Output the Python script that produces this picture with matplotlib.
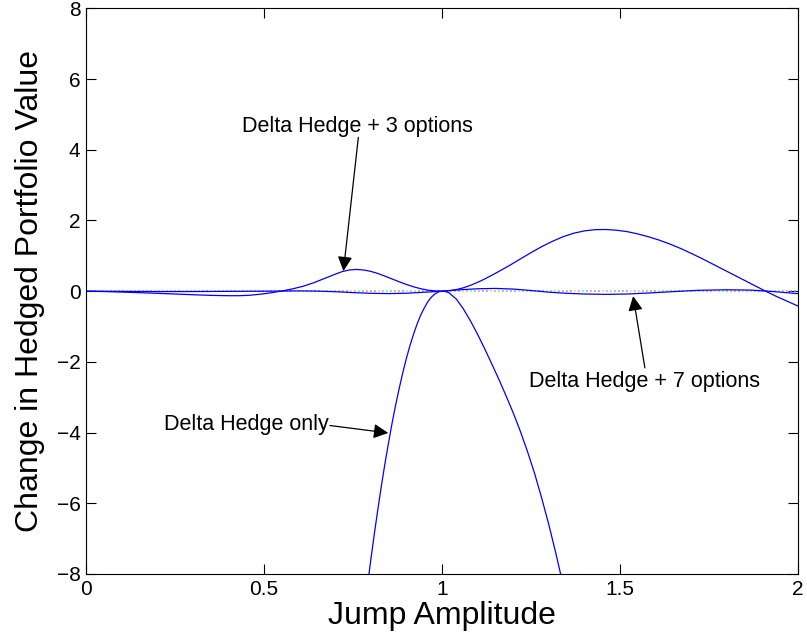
import numpy as np
import matplotlib.pyplot as plt

plt.rcParams['font.family'] = ['Liberation Sans', 'DejaVu Sans']

# Portfolio value change vs jump amplitude, three hedging strategies
only_x = [0.785, 0.79, 0.80, 0.81, 0.82, 0.83, 0.84, 0.85, 0.86, 0.87,
          0.88, 0.89, 0.90, 0.91, 0.92, 0.93, 0.94, 0.95, 0.96, 0.97,
          0.98, 0.99, 1.00, 1.01, 1.02, 1.04, 1.06, 1.08, 1.10, 1.12,
          1.14, 1.16, 1.18, 1.20, 1.22, 1.24, 1.26, 1.28, 1.30, 1.32, 1.34]
only_y = [-8.78, -8.38, -7.60, -6.86, -6.16, -5.49, -4.86, -4.28, -3.72, -3.21,
          -2.74, -2.30, -1.90, -1.54, -1.22, -0.93, -0.68, -0.48, -0.30, -0.17,
          -0.08, -0.02, 0.00, -0.01, -0.05, -0.22, -0.50, -0.84, -1.22, -1.63,
          -2.06, -2.50, -2.96, -3.44, -3.96, -4.53, -5.15, -5.85, -6.60, -7.42, -8.30]

opt3_x = [0.00, 0.05, 0.10, 0.15, 0.20, 0.25, 0.30, 0.35, 0.40, 0.43,
          0.46, 0.49, 0.52, 0.55, 0.58, 0.61, 0.64, 0.67, 0.70, 0.72,
          0.74, 0.76, 0.78, 0.80, 0.82, 0.84, 0.86, 0.88, 0.90, 0.92,
          0.94, 0.96, 0.98, 1.00, 1.02, 1.04, 1.06, 1.08, 1.10, 1.12,
          1.14, 1.16, 1.19, 1.22, 1.25, 1.28, 1.31, 1.34, 1.37, 1.40,
          1.43, 1.46, 1.49, 1.52, 1.55, 1.58, 1.61, 1.64, 1.67, 1.70,
          1.73, 1.76, 1.79, 1.82, 1.85, 1.88, 1.91, 1.94, 1.97, 2.00]
opt3_y = [0.000, -0.010, -0.025, -0.042, -0.060, -0.080, -0.100, -0.118, -0.128, -0.128,
          -0.115, -0.085, -0.045, 0.005, 0.065, 0.140, 0.240, 0.360, 0.480, 0.555,
          0.600, 0.615, 0.600, 0.560, 0.500, 0.425, 0.345, 0.265, 0.190, 0.125,
          0.070, 0.030, 0.008, 0.000, 0.015, 0.045, 0.095, 0.165, 0.250, 0.345,
          0.450, 0.560, 0.730, 0.910, 1.090, 1.260, 1.410, 1.540, 1.640, 1.705,
          1.740, 1.745, 1.725, 1.685, 1.620, 1.540, 1.445, 1.335, 1.210, 1.070,
          0.925, 0.770, 0.615, 0.460, 0.305, 0.150, -0.005, -0.150, -0.285, -0.420]

opt7_x = [0.00, 0.10, 0.20, 0.30, 0.40, 0.50, 0.60, 0.65, 0.70, 0.75,
          0.80, 0.85, 0.90, 0.95, 1.00, 1.05, 1.10, 1.15, 1.20, 1.25,
          1.30, 1.35, 1.40, 1.46, 1.52, 1.58, 1.65, 1.72, 1.80, 1.87,
          1.93, 2.00]
opt7_y = [0.000, -0.005, -0.010, -0.010, -0.005, 0.000, 0.008, 0.002, -0.015, -0.040,
          -0.060, -0.068, -0.058, -0.030, 0.000, 0.040, 0.068, 0.078, 0.060, 0.020,
          -0.028, -0.060, -0.080, -0.090, -0.080, -0.052, -0.012, 0.025, 0.040, 0.030,
          -0.010, -0.070]

zero_colors = ['#ff8080', '#70c070', '#70d8d8', '#dd88dd', '#d8d860', '#8888ff', '#999999']

fig = plt.figure(figsize=(8.07, 6.44), dpi=100)
ax = fig.add_axes([0.1066, 0.1087, 0.8822, 0.8783])

# multicolour dotted zero reference
for i, c in enumerate(zero_colors):
    ax.plot([0, 2], [0, 0], color=c, lw=1.2,
            linestyle=(i * 2.4, (1.0, 15.8)))

ax.plot(only_x, only_y, color='blue', lw=0.9)
ax.plot(opt3_x, opt3_y, color='blue', lw=0.9)
ax.plot(opt7_x, opt7_y, color='blue', lw=0.9)

ax.set_xlim(0, 2)
ax.set_ylim(-8, 8)
ax.set_xticks([0, 0.5, 1, 1.5, 2])
ax.set_xticklabels(['0', '0.5', '1', '1.5', '2'])
ax.set_yticks(range(-8, 9, 2))
ax.tick_params(direction='in', length=7, width=0.8, top=True, right=True,
               labelsize=15, pad=4)
for s in ax.spines.values():
    s.set_linewidth(0.8)

ax.set_xlabel('Jump Amplitude', fontsize=23, labelpad=2)
ax.set_ylabel('Change in Hedged Portfolio Value', fontsize=23, labelpad=8)

arrow = dict(arrowstyle='-|>', color='black', lw=0.9,
             mutation_scale=22, shrinkA=0, shrinkB=0)
ax.annotate('', xy=(0.723, 0.567), xytext=(0.765, 4.35), arrowprops=arrow)
ax.text(0.763, 4.67, 'Delta Hedge + 3 options', fontsize=15.5,
        ha='center', va='center')

ax.annotate('', xy=(1.537, -0.14), xytext=(1.570, -2.17), arrowprops=arrow)
ax.text(1.570, -2.55, 'Delta Hedge + 7 options', fontsize=15.5,
        ha='center', va='center')

ax.annotate('', xy=(0.849, -4.01), xytext=(0.685, -3.80), arrowprops=arrow)
ax.text(0.451, -3.78, 'Delta Hedge only', fontsize=15.5,
        ha='center', va='center')

fig.savefig('out.png', dpi=100)
